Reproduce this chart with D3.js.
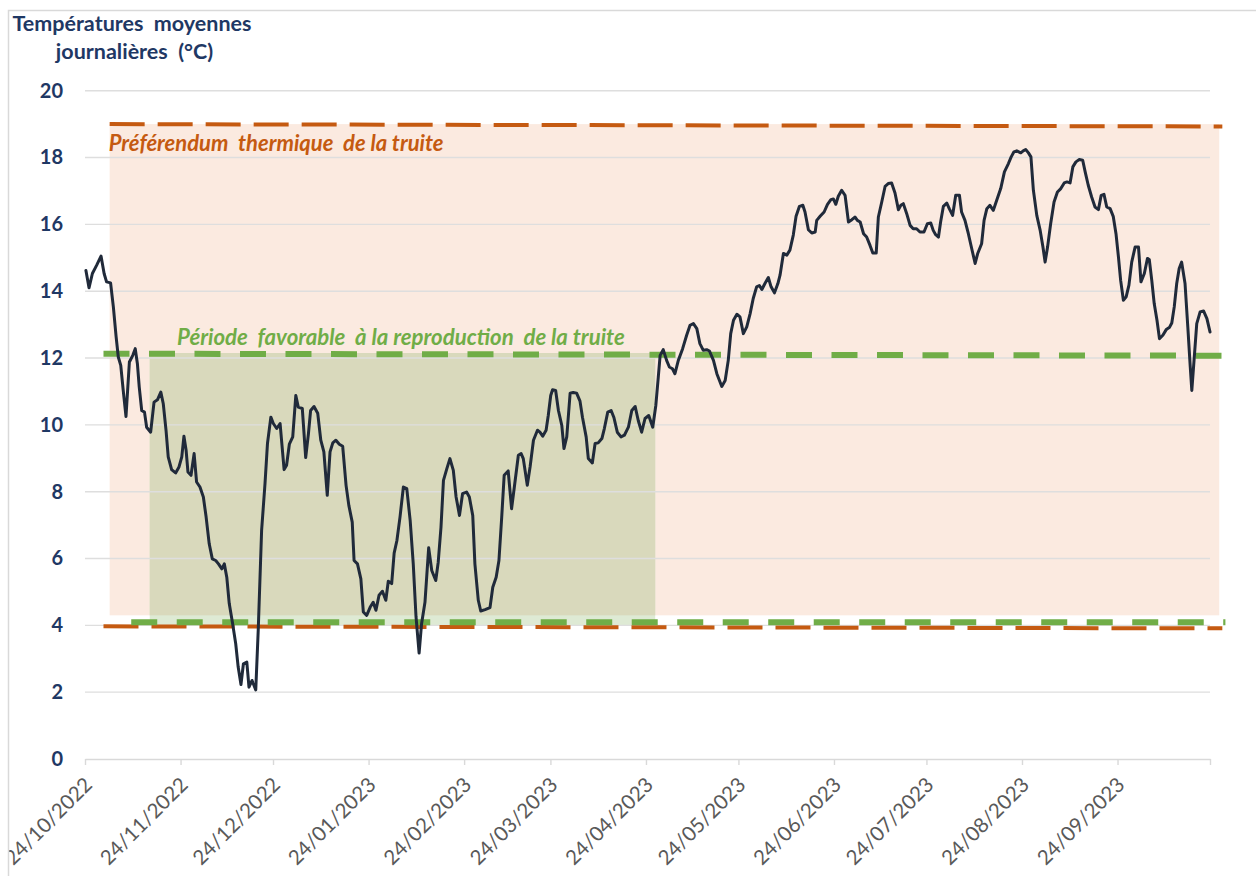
<!DOCTYPE html>
<html><head><meta charset="utf-8">
<script src="https://cdn.jsdelivr.net/npm/d3@7"></script>
<style>body{margin:0;background:#fff;} svg{display:block;}</style>
</head><body>
<svg id="chart" width="1256" height="876"></svg>
<script>
// ---------- DATA ----------
const startDate = "2022-10-24";
// day offsets from startDate and daily mean temperatures (°C)
const dayOffsets = [
0.3,1.3,2.4,3.8,5.2,6.2,7.0,8.3,9.2,10.1,10.8,11.6,12.4,13.3,14.4,15.5,16.3,17.0,17.6,18.4,19.3,20.0,21.3,22.4,23.5,24.6,25.4,26.3,27.0,28.1,29.4,30.5,31.4,32.1,32.8,33.4,34.4,35.4,36.2,37.3,38.4,39.3,40.3,41.3,42.4,43.3,44.4,45.2,46.0,46.8,47.9,48.9,49.7,50.6,51.4,52.5,53.2,54.2,55.4,56.2,57.3,58.4,59.2,60.3,
61.1,62.2,63.3,64.6,65.4,66.3,67.4,68.4,69.2,70.5,71.6,72.5,73.2,74.3,75.5,76.5,77.5,78.6,79.5,80.4,81.4,82.5,83.6,84.7,85.6,86.7,87.3,88.4,89.5,90.3,91.4,92.5,93.5,94.4,95.4,96.5,97.6,98.4,99.5,100.3,101.2,102.2,103.3,104.4,105.5,106.5,107.4,108.4,109.2,110.3,111.5,112.5,113.8,114.6,115.5,116.3,117.4,118.4,119.5,120.4,121.5,
122.5,123.8,124.7,125.8,126.5,127.6,128.4,129.8,131.4,132.3,133.4,134.3,135.2,136.0,137.3,138.4,139.3,140.6,141.5,142.2,143.5,144.4,145.5,146.8,147.6,148.5,149.6,150.3,151.1,151.7,152.7,153.6,154.7,155.4,156.3,157.4,158.4,159.5,160.6,161.4,162.6,163.3,164.6,165.5,166.5,167.7,168.5,169.6,170.7,171.6,172.7,173.9,175.0,176.3,177.4,178.5,179.5,180.6,181.7,182.9,184.2,185.2,186.0,186.6,187.6,
188.7,189.6,190.6,191.4,192.5,193.9,195.2,196.3,197.4,198.5,199.5,200.6,201.7,202.6,203.9,205.0,206.6,207.7,208.7,209.5,210.4,211.5,212.5,213.6,214.7,215.8,216.8,217.9,218.8,219.6,220.6,221.7,222.6,223.7,224.8,225.5,226.6,227.7,228.7,229.8,230.7,231.8,232.9,233.6,234.7,235.8,236.9,237.4,238.5,239.8,240.9,242.0,242.8,243.6,244.4,245.5,246.6,247.7,248.8,249.8,
250.6,251.5,252.6,253.6,254.7,255.6,256.7,257.4,258.5,259.6,260.6,261.7,262.8,263.9,264.7,265.5,266.6,267.7,268.7,269.8,270.9,272.2,273.3,274.4,275.2,276.0,276.9,277.6,278.5,279.6,280.4,281.5,282.5,283.7,284.4,285.5,286.6,287.7,288.8,289.6,290.9,291.7,292.6,293.6,294.7,295.8,297.1,298.3,299.6,300.5,301.4,302.3,303.6,304.4,305.2,306.1,306.9,
307.7,308.8,309.9,310.8,311.5,312.3,313.3,314.4,315.5,316.6,317.7,318.6,319.6,320.5,321.5,322.6,323.7,324.5,325.5,326.6,327.7,328.8,329.7,330.6,331.5,332.6,333.6,334.5,335.3,336.0,336.9,337.8,338.7,339.6,340.7,341.8,342.6,343.7,344.7,345.3,346.1,346.9,347.8,348.6,349.7,350.8,351.8,352.6,353.4,354.2,355.0,355.8,356.9,357.8,358.6,359.1,359.9,360.7,361.8,362.9,364.0,365.0
];
const temps = [
14.62,14.10,14.53,14.78,15.05,14.53,14.28,14.25,13.53,12.63,12.03,11.78,11.03,10.25,11.88,12.08,12.28,11.83,11.13,10.43,10.38,9.93,9.78,10.68,10.75,10.98,10.63,9.83,9.04,8.66,8.56,8.74,9.04,9.66,9.24,8.59,8.49,9.14,8.29,8.14,7.84,7.24,6.44,5.99,5.94,5.84,5.69,5.84,5.44,4.65,4.05,3.45,2.75,2.23,2.85,2.90,2.15,2.35,2.07,3.85,6.84,8.24,9.44,10.23,
10.04,9.89,10.04,8.66,8.79,9.42,9.64,10.88,10.53,10.49,9.02,9.74,10.43,10.55,10.35,9.54,9.19,7.89,9.19,9.46,9.54,9.42,9.36,8.19,7.59,7.09,5.94,5.84,5.39,4.40,4.30,4.54,4.69,4.45,4.90,5.02,4.75,5.32,5.25,6.16,6.54,7.24,8.14,8.09,7.14,5.84,4.25,3.17,4.05,4.69,6.32,5.64,5.34,5.89,6.94,8.34,8.69,8.99,8.64,7.84,7.29,
7.94,7.99,7.84,7.29,5.84,4.75,4.43,4.47,4.53,5.14,5.44,5.94,7.24,8.49,8.62,7.49,8.14,9.09,9.14,8.99,8.19,8.74,9.54,9.84,9.78,9.66,9.84,10.28,10.88,11.05,11.03,10.43,9.98,9.29,9.64,10.95,10.97,10.95,10.71,10.23,9.64,8.99,8.86,9.44,9.46,9.59,9.89,10.38,10.43,10.22,9.78,9.64,9.69,9.93,10.43,10.55,10.13,9.78,10.19,10.28,9.93,10.58,11.43,12.08,12.25,
11.93,11.73,11.68,11.53,11.93,12.28,12.68,12.98,13.03,12.88,12.43,12.23,12.25,12.21,11.93,11.53,11.15,11.33,11.93,12.73,13.13,13.31,13.23,12.73,12.93,13.33,13.78,14.13,14.17,14.05,14.23,14.41,14.13,13.95,14.23,14.48,15.13,15.08,15.23,15.68,16.24,16.54,16.57,16.37,15.84,15.74,15.77,16.12,16.24,16.37,16.60,16.74,16.76,16.60,16.84,17.02,16.87,16.07,16.14,16.22,
16.12,16.07,15.72,15.62,15.37,15.14,15.14,16.22,16.67,17.14,17.22,17.24,16.94,16.44,16.57,16.62,16.32,15.97,15.87,15.87,15.77,15.77,16.02,16.04,15.82,15.69,15.62,16.07,16.54,16.64,16.47,16.27,16.87,16.87,16.37,16.12,15.72,15.27,14.83,15.12,15.42,16.12,16.47,16.57,16.42,16.72,17.07,17.57,17.82,18.02,18.17,18.20,18.14,18.20,18.24,18.14,18.02,
17.02,16.27,15.82,15.32,14.87,15.32,16.02,16.67,16.97,17.07,17.24,17.27,17.24,17.72,17.87,17.94,17.92,17.57,17.17,16.82,16.52,16.44,16.87,16.90,16.52,16.47,16.24,15.72,15.02,14.33,13.73,13.83,14.18,14.87,15.32,15.32,14.28,14.53,14.98,14.95,14.33,13.63,13.13,12.58,12.68,12.85,12.91,13.05,13.53,14.23,14.68,14.87,14.23,12.93,11.73,11.03,12.03,13.03,13.38,13.41,13.18,12.78
];
const tickDates = ["2022-10-24","2022-11-24","2022-12-24","2023-01-24","2023-02-24","2023-03-24","2023-04-24","2023-05-24","2023-06-24","2023-07-24","2023-08-24","2023-09-24","2023-10-24"];
const tickLabels = ["24/10/2022","24/11/2022","24/12/2022","24/01/2023","24/02/2023","24/03/2023","24/04/2023","24/05/2023","24/06/2023","24/07/2023","24/08/2023","24/09/2023",""];
const yTicks = [0,2,4,6,8,10,12,14,16,18,20];
// shaded bands: [préférendum thermique, période favorable à la reproduction]
const bandStarts = ["2022-11-01","2022-11-14"];
const bandEnds = ["2023-10-27","2023-04-27"];
const bandLows = [4.3, 4.0];
const bandHighs = [19.0, 12.15];
// dashed threshold lines: [pref. high, pref. low, repro high, repro low]
const lineStarts = ["2022-11-01","2022-10-30","2022-10-30","2022-11-08"];
const lineEnds = ["2023-10-28","2023-10-28","2023-10-29","2023-10-29"];
const lineStartValues = [19.0, 3.97, 12.13, 4.09];
const lineEndValues = [18.93, 3.91, 12.07, 4.09];
const annotations = ["Préférendum  thermique  de la truite", "Période  favorable  à la reproduction  de la truite"];
const titleLines = ["Températures  moyennes", "journalières  (°C)"];

// ---------- CHART ----------
const svg = d3.select("#chart");
const parse = d3.utcParse("%Y-%m-%d");
const x = d3.scaleUtc().domain([parse(tickDates[0]), parse(tickDates[tickDates.length-1])]).range([85, 1210]);
const y = d3.scaleLinear().domain([0, 20]).range([759, 90.7]);
const t0 = parse(startDate);
const pts = dayOffsets.map((d, i) => ({date: new Date(t0.getTime() + d * 864e5), v: temps[i]}));

const ORANGE = "#C55A11", GREEN = "#70AD47", NAVY = "#1F3864";
const FONT = "Lato, 'Open Sans', sans-serif";

// clip for the chart frame (labels cut at the frame's left edge, as in the original)
svg.append("defs").append("clipPath").attr("id", "frameClip")
  .append("rect").attr("x", 8).attr("y", 10).attr("width", 1400).attr("height", 1000);
const root = svg.append("g").attr("clip-path", "url(#frameClip)");

// frame
svg.append("rect").attr("x", 8.5).attr("y", 10.5).attr("width", 1400).attr("height", 1000)
  .attr("fill", "none").attr("stroke", "#D9D9D9").attr("stroke-width", 1.5);

// bands
const bandFill = ["#FBEAE0", "#DEEAD4"];
bandStarts.forEach((s, i) => {
  root.append("rect")
    .attr("x", x(parse(s))).attr("width", x(parse(bandEnds[i])) - x(parse(s)))
    .attr("y", y(bandHighs[i])).attr("height", y(bandLows[i]) - y(bandHighs[i]))
    .attr("fill", bandFill[i]);
});
// overlap of the two bands
{
  const x0 = Math.max(x(parse(bandStarts[0])), x(parse(bandStarts[1])));
  const x1 = Math.min(x(parse(bandEnds[0])), x(parse(bandEnds[1])));
  const yTop = Math.max(y(bandHighs[0]), y(bandHighs[1]));
  const yBot = Math.min(y(bandLows[0]), y(bandLows[1]));
  root.append("rect").attr("x", x0).attr("width", x1 - x0).attr("y", yTop).attr("height", yBot - yTop)
    .attr("fill", "#D9D9BC");
}

// gridlines
root.append("g").selectAll("line").data(yTicks.filter(v => v > 0)).join("line")
  .attr("x1", 85).attr("x2", 1210).attr("y1", d => y(d)).attr("y2", d => y(d))
  .attr("stroke", "#DEDEDE").attr("stroke-width", 1.4);

// y axis labels
const yAxis = root.append("g").attr("transform", "translate(85,0)")
  .call(d3.axisLeft(y).tickValues(yTicks).tickSize(0).tickPadding(22));
yAxis.select(".domain").remove();
yAxis.selectAll("text").attr("font-family", FONT).attr("font-weight", "bold")
  .attr("font-size", 20).attr("fill", NAVY);

// x axis
const xAxis = root.append("g").attr("transform", `translate(0,${y(0)})`)
  .call(d3.axisBottom(x).tickValues(tickDates.map(parse)).tickSize(6).tickSizeOuter(0)
    .tickFormat((d, i) => tickLabels[i]));
xAxis.select(".domain").attr("stroke", "#D9D9D9").attr("stroke-width", 1.4);
xAxis.selectAll(".tick line").attr("stroke", "#D9D9D9").attr("stroke-width", 1.4);
xAxis.selectAll(".tick text")
  .attr("x", 0).attr("y", 0).attr("dy", 0)
  .attr("transform", "translate(8,27) rotate(-45)")
  .attr("text-anchor", "end")
  .attr("font-family", FONT).attr("font-size", 20.5).attr("fill", "#595959");

// threshold dashed lines
const lineColors = [ORANGE, ORANGE, GREEN, GREEN];
const lineWidths = [4, 4, 6, 6];
const lineDash = ["35,13", "35,13", "26,19.5", "26,19.5"];
lineStarts.forEach((s, i) => {
  root.append("line")
    .attr("x1", x(parse(s))).attr("x2", x(parse(lineEnds[i])))
    .attr("y1", y(lineStartValues[i])).attr("y2", y(lineEndValues[i]))
    .attr("stroke", lineColors[i]).attr("stroke-width", lineWidths[i])
    .attr("stroke-dasharray", lineDash[i]);
});

// data line
root.append("path").datum(pts)
  .attr("d", d3.line().x(d => x(d.date)).y(d => y(d.v)))
  .attr("fill", "none").attr("stroke", "#202A3A").attr("stroke-width", 3)
  .attr("stroke-linejoin", "round").attr("stroke-linecap", "round");

// annotations
root.append("text").attr("x", x(parse(bandStarts[0])) - 1).attr("y", y(18.2))
  .attr("font-family", FONT).attr("font-weight", "bold").attr("font-style", "italic")
  .attr("font-size", 22).attr("fill", ORANGE)
  .style("white-space", "pre").text(annotations[0]);
root.append("text").attr("x", 177).attr("y", y(12.4))
  .attr("font-family", FONT).attr("font-weight", "bold").attr("font-style", "italic")
  .attr("font-size", 22.2).attr("fill", GREEN)
  .style("white-space", "pre").text(annotations[1]);

// y title
root.append("g").selectAll("text").data(titleLines).join("text")
  .attr("x", (d, i) => i === 0 ? 132 : 134.5).attr("y", (d, i) => 31 + i * 28)
  .attr("text-anchor", "middle")
  .attr("font-family", FONT).attr("font-weight", "bold").attr("font-size", 21.5)
  .attr("fill", NAVY).style("white-space", "pre").text(d => d);
</script>
</body></html>
